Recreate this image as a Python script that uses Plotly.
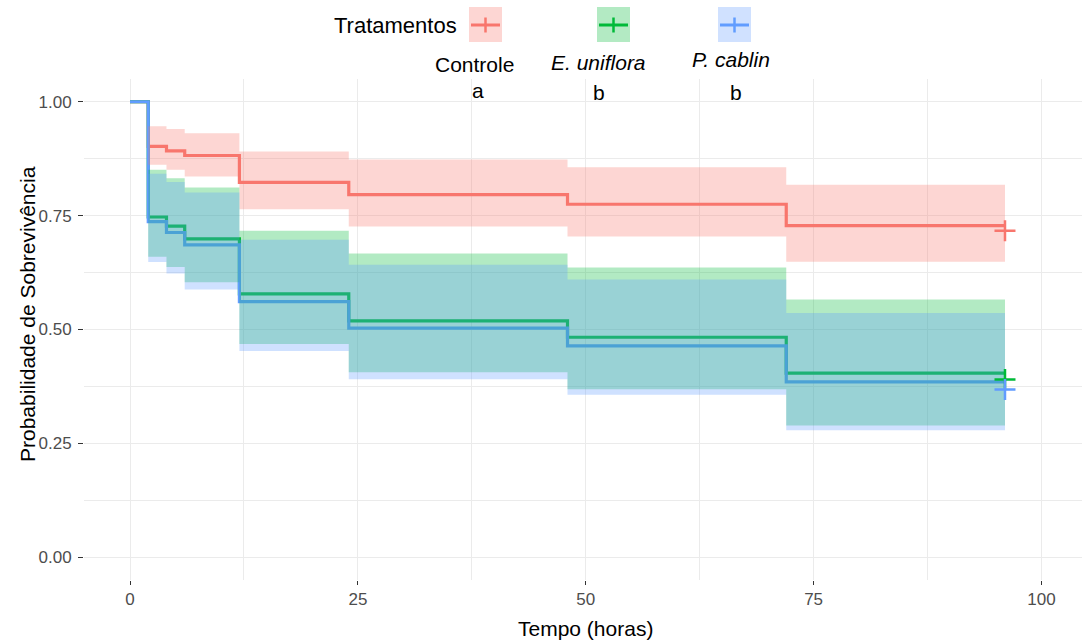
import plotly.graph_objects as go

# ---------------- data ----------------
times = [0, 2, 4, 6, 12, 24, 48, 72, 96]

groups = ["Controle", "E. uniflora", "P. cablin"]
group_labels = ["Controle", "<i>E. uniflora</i>", "<i>P. cablin</i>"]
group_letters = ["a", "b", "b"]

surv_controle = [1.0, 0.902, 0.892, 0.882, 0.823, 0.796, 0.775, 0.728, 0.728]
upper_controle = [1.0, 0.946, 0.940, 0.931, 0.891, 0.873, 0.856, 0.818, 0.818]
lower_controle = [1.0, 0.862, 0.851, 0.836, 0.764, 0.726, 0.704, 0.649, 0.649]

surv_euniflora = [1.0, 0.747, 0.727, 0.699, 0.578, 0.519, 0.483, 0.404, 0.404]
upper_euniflora = [1.0, 0.851, 0.832, 0.812, 0.717, 0.667, 0.636, 0.566, 0.566]
lower_euniflora = [1.0, 0.660, 0.637, 0.604, 0.468, 0.406, 0.369, 0.289, 0.289]

surv_pcablin = [1.0, 0.737, 0.713, 0.686, 0.561, 0.503, 0.464, 0.385, 0.385]
upper_pcablin = [1.0, 0.842, 0.824, 0.801, 0.697, 0.642, 0.610, 0.536, 0.536]
lower_pcablin = [1.0, 0.648, 0.623, 0.588, 0.453, 0.391, 0.357, 0.279, 0.279]

censor_time = [96, 96, 96]
censor_surv = [0.717, 0.390, 0.368]

x_ticks = [0, 25, 50, 75, 100]
y_ticks = [0.0, 0.25, 0.50, 0.75, 1.0]
y_ticklabels = ["0.00", "0.25", "0.50", "0.75", "1.00"]

# ---------------- style ----------------
colors = ["#F8766D", "#00BA38", "#619CFF"]
fills = ["rgba(248,118,109,0.3)", "rgba(0,186,56,0.3)", "rgba(97,156,255,0.3)"]
key_fills = ["#FDD6D3", "#B3EAC3", "#D0E1FF"]
FONT = "Liberation Sans, Arial, sans-serif"

surv = [surv_controle, surv_euniflora, surv_pcablin]
upper = [upper_controle, upper_euniflora, upper_pcablin]
lower = [lower_controle, lower_euniflora, lower_pcablin]

W, H = 1082, 643
ML, MR, MT, MB = 84, 0, 79, 63
PW = W - ML - MR
PH = H - MT - MB


def xp(px):
    return (px - ML) / PW


def yp(py):
    return (H - MB - py) / PH


fig = go.Figure()

# survival step lines (drawn first, ribbons go over them)
for i, g in enumerate(groups):
    fig.add_trace(go.Scatter(
        x=times, y=surv[i], mode="lines", line=dict(color=colors[i], width=3.2, shape="hv"),
        showlegend=False, hoverinfo="skip"))

# confidence ribbons
for i, g in enumerate(groups):
    fig.add_trace(go.Scatter(
        x=times, y=lower[i], mode="lines", line=dict(width=0, shape="hv"),
        showlegend=False, hoverinfo="skip"))
    fig.add_trace(go.Scatter(
        x=times, y=upper[i], mode="lines", line=dict(width=0, shape="hv"),
        fill="tonexty", fillcolor=fills[i], showlegend=False, hoverinfo="skip"))

# censor marks
for i, g in enumerate(groups):
    fig.add_trace(go.Scatter(
        x=[censor_time[i]], y=[censor_surv[i]], mode="markers",
        marker=dict(symbol="cross-thin", size=15, line=dict(color=colors[i], width=2.5)),
        showlegend=False, hoverinfo="skip"))

# ---------------- manual legend ----------------
shapes = []
annotations = []
key_left = [469, 597, 718]
key_w, key_top, key_bot = 33, 7, 42
key_mid = 25
label_x = [474, 598, 731]
label_y = [65, 62, 59]
letter_x = [478, 599, 736]
letter_y = [90, 92, 92]

for i, g in enumerate(groups):
    x0, x1 = key_left[i], key_left[i] + key_w
    shapes.append(dict(type="rect", xref="paper", yref="paper",
                       x0=xp(x0), x1=xp(x1), y0=yp(key_bot), y1=yp(key_top),
                       fillcolor=key_fills[i], line=dict(width=0)))
    shapes.append(dict(type="line", xref="paper", yref="paper",
                       x0=xp(x0 + 2), x1=xp(x1 - 2), y0=yp(key_mid), y1=yp(key_mid),
                       line=dict(color=colors[i], width=3)))
    xc = (x0 + x1) / 2
    shapes.append(dict(type="line", xref="paper", yref="paper",
                       x0=xp(xc), x1=xp(xc), y0=yp(key_mid - 7.5), y1=yp(key_mid + 7.5),
                       line=dict(color=colors[i], width=2.5)))
    annotations.append(dict(text=group_labels[i], xref="paper", yref="paper",
                            x=xp(label_x[i]), y=yp(label_y[i]), xanchor="center", yanchor="middle",
                            showarrow=False, font=dict(family=FONT, size=21, color="black")))
    annotations.append(dict(text=group_letters[i], xref="paper", yref="paper",
                            x=xp(letter_x[i]), y=yp(letter_y[i]), xanchor="center", yanchor="middle",
                            showarrow=False, font=dict(family=FONT, size=21, color="black")))

annotations.append(dict(text="Tratamentos", xref="paper", yref="paper",
                        x=xp(459), y=yp(25), xanchor="right", yanchor="middle",
                        showarrow=False, font=dict(family=FONT, size=22, color="black")))

# axis titles
annotations.append(dict(text="Probabilidade de Sobrevivência", xref="paper", yref="paper",
                        x=xp(27), y=yp(314), xanchor="center", yanchor="middle", textangle=-90,
                        showarrow=False, font=dict(family=FONT, size=21, color="black")))
annotations.append(dict(text="Tempo (horas)", xref="paper", yref="paper",
                        x=xp(585), y=yp(628), xanchor="center", yanchor="middle",
                        showarrow=False, font=dict(family=FONT, size=21, color="black")))

GRID = "#EBEBEB"
fig.update_layout(
    width=W, height=H,
    margin=dict(l=ML, r=MR, t=MT, b=MB, pad=0),
    paper_bgcolor="white", plot_bgcolor="white",
    showlegend=False,
    shapes=shapes, annotations=annotations,
    font=dict(family=FONT),
    xaxis=dict(range=[-5.05, 104.45], tickvals=x_ticks, ticktext=[str(v) for v in x_ticks],
               showgrid=True, gridcolor=GRID, gridwidth=1.1, zeroline=False, showline=False,
               ticks="outside", ticklen=4, tickwidth=1.2, tickcolor="#333333",
               tickfont=dict(family=FONT, size=17, color="#4D4D4D"),
               minor=dict(tickvals=[12.5, 37.5, 62.5, 87.5], showgrid=True, gridcolor=GRID,
                          gridwidth=0.8, ticks=""),
               fixedrange=True),
    yaxis=dict(range=[-0.05, 1.05], tickvals=y_ticks, ticktext=y_ticklabels,
               showgrid=True, gridcolor=GRID, gridwidth=1.1, zeroline=False, showline=False,
               ticks="outside", ticklen=5, tickwidth=1.2, tickcolor="#333333",
               tickfont=dict(family=FONT, size=17, color="#4D4D4D"),
               ticklabelstandoff=3,
               minor=dict(tickvals=[0.125, 0.375, 0.625, 0.875], showgrid=True, gridcolor=GRID,
                          gridwidth=0.8, ticks=""),
               fixedrange=True),
)

fig.write_html("out.html")
